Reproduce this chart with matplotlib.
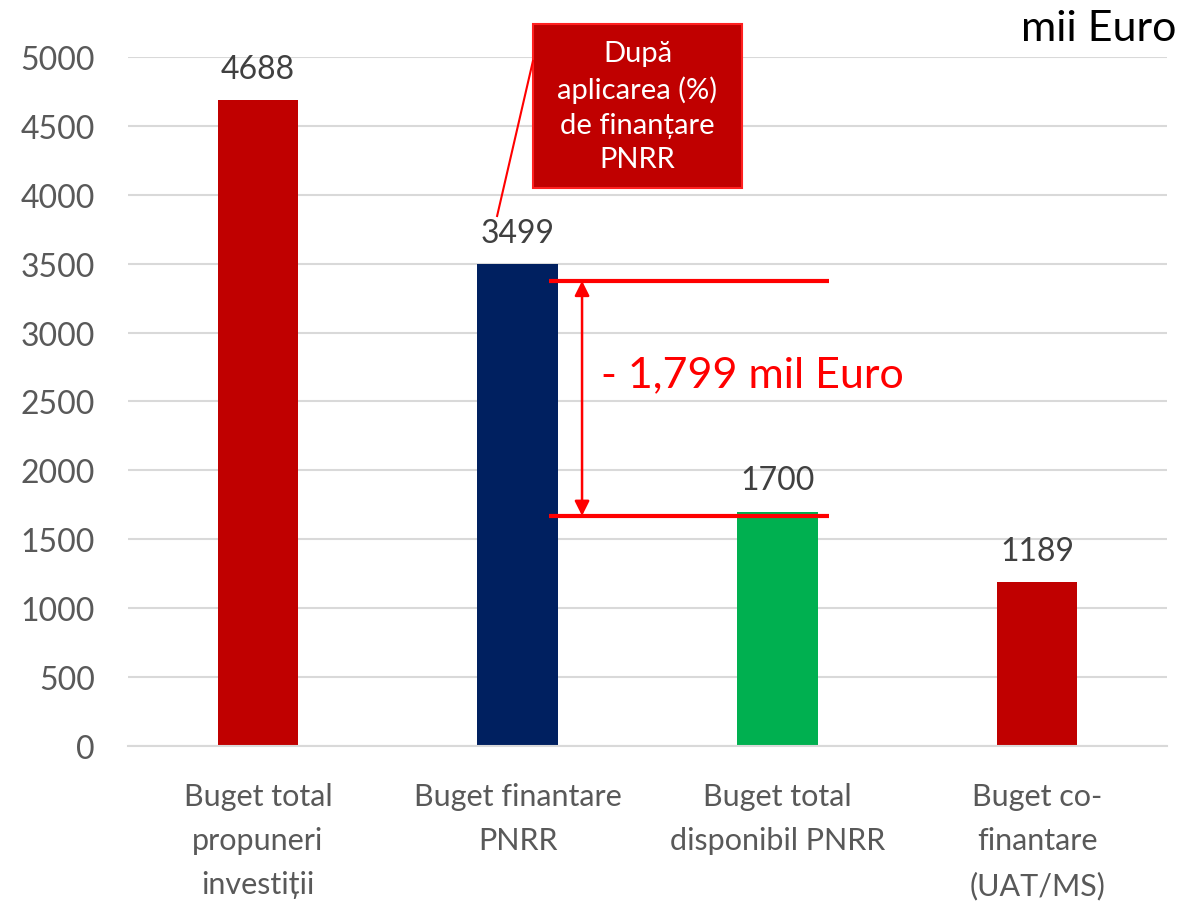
import matplotlib.pyplot as plt
from matplotlib.patches import Rectangle

plt.rcParams['font.family'] = ['Lato', 'DejaVu Sans']

categorii = ['Buget total\npropuneri\ninvestiții', 'Buget finantare\nPNRR',
             'Buget total\ndisponibil PNRR', 'Buget co-\nfinantare\n(UAT/MS)']
valori = [4688, 3499, 1700, 1189]
culori = ['#C00000', '#002060', '#00B050', '#C00000']
diferenta_sus = 3375
diferenta_jos = 1670
text_diferenta = '- 1,799 mil Euro'
text_caseta = 'După\naplicarea (%)\nde finanțare\nPNRR'

fig = plt.figure(figsize=(11.82, 9.04), dpi=100)
ax = fig.add_axes([0.1083, 0.1737, 0.879, 0.7622])

x = range(len(categorii))
bare = ax.bar(x, valori, width=0.31, color=culori, zorder=2)
for b, v in zip(bare, valori):
    ax.annotate(str(v), (b.get_x() + b.get_width() / 2, v), xytext=(0, 16),
                textcoords='offset points', ha='center', va='baseline',
                fontsize=23, color='#404040')

ax.set_xlim(-0.5, 3.5)
ax.set_ylim(0, 5000)
ax.set_yticks(range(0, 5001, 500))
ax.set_xticks(list(x))
ax.set_xticklabels(categorii, fontsize=22, color='#595959', linespacing=1.7)
ax.tick_params(axis='y', labelsize=23, labelcolor='#595959', length=0, pad=24)
ax.tick_params(axis='x', length=0, pad=26)
ax.grid(axis='y', color='#D9D9D9', linewidth=1.5, zorder=0)
for s in ['top', 'right', 'left']:
    ax.spines[s].set_visible(False)
ax.spines['bottom'].set_color('#D9D9D9')
ax.spines['bottom'].set_linewidth(1.5)

# liniile rosii si sageata
for yy in [diferenta_sus, diferenta_jos]:
    ax.plot([1.121, 2.199], [yy, yy], color='red', lw=3, solid_capstyle='butt', zorder=4)
ax.annotate('', xy=(1.248, diferenta_jos), xytext=(1.248, diferenta_sus),
            arrowprops=dict(arrowstyle='<|-|>', color='red', lw=1.8,
                            mutation_scale=22, shrinkA=0, shrinkB=0), zorder=5)
ax.text(1.32, 2700, text_diferenta, color='red', fontsize=31, va='center', ha='left')

# caseta
ax.add_patch(Rectangle((1.059, 4049), 0.805, 1191, facecolor='#C00000',
                       edgecolor='#FF2020', lw=1.5, clip_on=False, zorder=5))
ax.text(1.4615, 4644, text_caseta, color='white', fontsize=21, ha='center',
        va='center', linespacing=1.42, zorder=6, clip_on=False)
ax.plot([1.059, 0.921], [4971, 3846], color='red', lw=1.5, clip_on=False, zorder=5)

fig.text(0.995, 0.955, 'mii Euro', fontsize=31, ha='right', va='baseline', color='black')

fig.savefig('out.png', dpi=100)
